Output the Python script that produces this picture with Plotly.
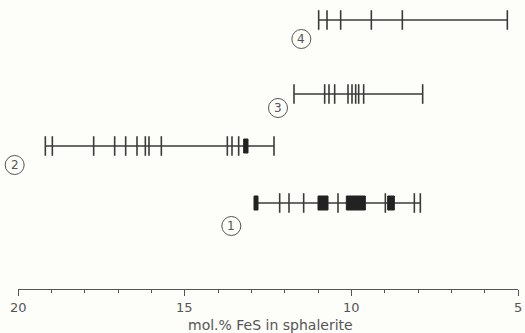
import plotly.graph_objects as go

# ---- data (mol.% FeS in sphalerite) ----
series_labels = ["1", "2", "3", "4"]
ticks_1 = [12.15, 11.87, 11.43, 10.40, 8.98, 8.11, 7.93]
blocks_1 = [(12.92, 12.80), (11.00, 10.70), (10.15, 9.58), (8.91, 8.71)]
ticks_2 = [19.18, 18.97, 17.73, 17.10, 16.77, 16.43, 16.18, 16.07, 15.70,
           13.72, 13.58, 13.38, 12.32]
blocks_2 = [(13.23, 13.10)]
ticks_3 = [11.72, 10.80, 10.67, 10.50, 10.10, 9.98, 9.87, 9.78, 9.63, 7.86]
blocks_3 = []
ticks_4 = [10.98, 10.73, 10.32, 9.40, 8.47, 5.32]
blocks_4 = []

x_tickvals = [20, 15, 10, 5]
x_ticktext = ["20", "15", "10", "5"]
x_title = "mol.% FeS in sphalerite"

# ---- layout constants (vertical placement of rows, label offsets) ----
X_MAX, X_MIN = 20, 5
PLOT_H = 289  # plot-area height in px; y axis runs 0 (top) .. PLOT_H (bottom)
row_y = {"1": 203, "2": 146, "3": 94, "4": 20}
label_pos = {"1": (13.6, 226), "2": (20.1, 165), "3": (12.2, 108), "4": (11.5, 39)}

ink = "#3a3a3a"
grey = "#555555"
font = "DejaVu Sans"


def px_x(v):
    return (X_MAX - v) / (X_MAX - X_MIN)


def px_y(ypx):
    return (PLOT_H - ypx) / PLOT_H


fig = go.Figure()
series = {
    "1": (ticks_1, blocks_1),
    "2": (ticks_2, blocks_2),
    "3": (ticks_3, blocks_3),
    "4": (ticks_4, blocks_4),
}
shapes = []
annotations = []
for key in series_labels:
    ticks, blocks = series[key]
    y = row_y[key]
    allx = list(ticks) + [v for b in blocks for v in b]
    xmin, xmax = min(allx), max(allx)
    fig.add_trace(go.Scatter(x=[xmax, xmin], y=[y, y], mode="lines",
                             line=dict(color=ink, width=1.5),
                             hoverinfo="skip", showlegend=False))
    fig.add_trace(go.Scatter(x=ticks, y=[y] * len(ticks), mode="markers",
                             marker=dict(symbol="line-ns", size=14, color=ink,
                                         line=dict(color=ink, width=1.6)),
                             showlegend=False))
    for a, b in blocks:
        shapes.append(dict(type="rect", xref="x", yref="y",
                           x0=a, x1=b, y0=y - 7, y1=y + 7,
                           fillcolor="#222222", line=dict(color="#222222", width=1)))
    lx, ly = label_pos[key]
    cx, cy = px_x(lx), px_y(ly)
    shapes.append(dict(type="circle", xref="paper", yref="paper",
                       xsizemode="pixel", ysizemode="pixel",
                       xanchor=cx, yanchor=cy, x0=-9.5, x1=9.5, y0=-9.5, y1=9.5,
                       line=dict(color=grey, width=1)))
    annotations.append(dict(x=cx, y=cy, xref="paper", yref="paper", text=key,
                            showarrow=False, xanchor="center", yanchor="middle",
                            font=dict(family=font, size=12, color=grey)))

for v, t in zip(x_tickvals, x_ticktext):
    annotations.append(dict(x=px_x(v), y=px_y(308), xref="paper", yref="paper",
                            text=t, showarrow=False,
                            xanchor="center", yanchor="middle",
                            font=dict(family=font, size=13, color=grey)))
annotations.append(dict(x=0.505, y=px_y(325), xref="paper", yref="paper", text=x_title,
                        showarrow=False, xanchor="center", yanchor="middle",
                        font=dict(family=font, size=14, color=grey)))

fig.update_layout(
    width=525, height=333,
    margin=dict(l=18, r=7, t=0, b=44),
    paper_bgcolor="#fdfdfa", plot_bgcolor="#fdfdfa",
    shapes=shapes, annotations=annotations,
    xaxis=dict(range=[X_MAX, X_MIN], showgrid=False, zeroline=False,
               showline=True, linecolor=grey, linewidth=1,
               ticks="outside", ticklen=6, tickcolor=grey, tickwidth=1,
               tickvals=x_tickvals, showticklabels=False,
               minor=dict(dtick=1, ticks="outside", ticklen=3, tickcolor=grey)),
    yaxis=dict(range=[PLOT_H, 0], visible=False),
)

fig.write_html("out.html", config={"displayModeBar": False},
               post_script="document.body.style.margin='0';document.body.style.padding='0';")
